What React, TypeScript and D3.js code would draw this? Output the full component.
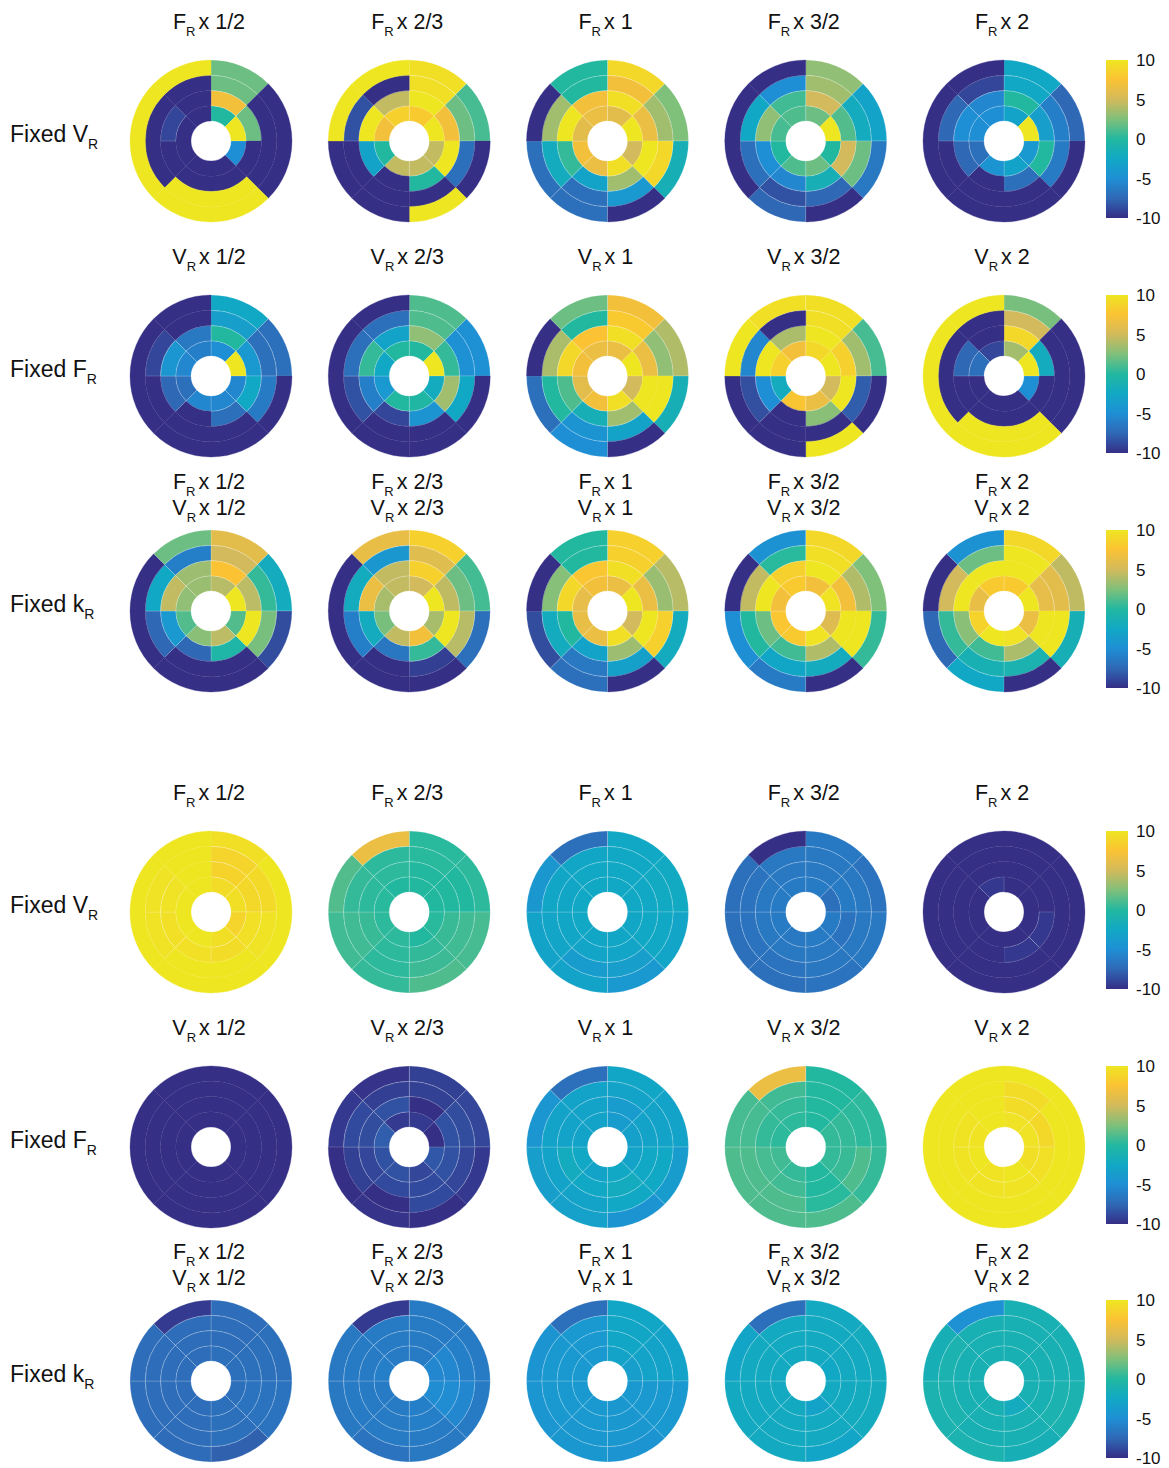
import React from 'react';
import * as d3 from 'd3';

// ---------- DATA (values in [-10, 10]; each plot: 4 rings (inner→outer) × 8 sectors clockwise from 12 o'clock)
const multipliers = ['1/2', '2/3', '1', '3/2', '2'];
const colorTicks = [10, 5, 0, -5, -10];
const colorDomain = [-10, -7.5, -5, -2.5, 0, 2.5, 5, 7.5, 10];
const colorRange = ['#352f86', '#2f68b5', '#1f8fd5', '#11a8c5', '#22b8a0', '#7fc07b', '#d3ba5c', '#fbc234', '#efe622'];

const topFixedVR = [
  [[0, 10, -5, -10, -10, -10, -10, -10], [7, 2, -10, -10, -10, -10, -9, -10], [2, -10, -10, 10, 10, -10, -10, -10], [2, -10, -10, 10, 10, 10, 10, 10]],
  [[8, 10, 4.5, 4.5, 4.5, 0, 7, 8.5], [10, 7, 10, 0, -10, -3, 10, 4.5], [9.5, 2, -7, -10, -10, -10, -8.5, -10], [9.5, 1, -10, 10, -10, -10, 10, 10]],
  [[6, 10, 5, 9.5, 6.5, 7, 6, 6.5], [9.5, 6.5, 10, 3.5, -3, 0.5, 10, 7], [7, 3.5, 9, -4, -7, -2, 3.5, 0], [9, 2.5, -1.5, -10, -7, -7, -10, 0]],
  [[2, 10, 0, 2, 1.2, 0, 1, 1.2], [5, 1.3, 5, -1.5, -5.5, -5, 3, 0.8], [3.5, -2, 2, -7.5, -8.5, -7, -2.5, -5], [3, -3, -6.5, -10, -7.5, -10, -10, -10]],
  [[-3, 10, -4, -3, -4.5, -7, -5, -5], [0, -3.5, 0, -7, -10, -7.5, -5, -5.5], [-2.5, -6, -6.3, -10, -10, -10, -7.5, -9], [-2.5, -7.5, -10, -10, -10, -10, -10, -10]],
];

const topFixedFR = [
  [[-5, 10, -5.5, -5.5, -5.5, -7, -5.5, -6], [0, -4, -2.5, -7, -10, -7.5, -4.3, -6.5], [-3.5, -7, -6.3, -10, -10, -10, -9, -10], [-2.5, -7, -10, -10, -10, -10, -10, -10]],
  [[0, 10, -2, -0.3, 0, -4, -2.5, 0], [3, 0.5, 3.5, -4.5, -9, -6, 0.5, -3], [1.2, -4.8, -2.5, -10, -10, -8.5, -7, -7], [1.2, -4.8, -10, -10, -10, -10, -10, -10]],
  [[6.5, 10, 5, 9.5, 7, 6, 7, 6.5], [9.5, 6.5, 10, 3.5, -1.5, 1.2, 9, 7.5], [8, 3, 10, -3, -4.5, 0, 3.8, 0], [7, 4, -1.5, -10, -5, -7, -10, 2]],
  [[9, 10, 5, 6.5, 7.7, -2, 8.5, 7], [10, 8.5, 10, 2.8, -10, -5, 10, 3.8], [9.5, 3.5, -8, -10, -10, -8.6, -5.5, -10], [9.5, 1, -10, 10, -10, -10, 10, 9.5]],
  [[3.6, 10, -5, -10, -10, -10, -7, -9], [9, -2, -10, -10, -10, -10, -7.5, -10], [5, -10, -10, 10, 10, -10, -10, -10], [2.3, -10, -10, 10, 10, 10, 10, 10]],
];

const topFixedKR = [
  [[4.2, 10, 1.3, 4.3, 2.8, 1.3, 3, 3.3], [7.5, 4.3, 10, -0.5, -7.5, -4, 4.5, 3.4], [5, 0.5, 2.3, -10, -10, -7.5, -2.5, -6], [6, -2, -8.7, -10, -10, -10, -10, 2]],
  [[5, 10, 3.7, 7, 4.5, 2.3, 3.7, 4.5], [8.5, 4.4, 10, 0.5, -6.6, -2, 6.5, 4.5], [5.8, 2, 4.2, -9.3, -10, -6, -2, -4.2], [8.5, 0.9, -7, -10, -10, -10, -10, 6.3]],
  [[6.5, 10, 5, 9.5, 6.5, 6.3, 6.2, 7], [9.5, 6.5, 10, 3.4, -3, 0, 9, 7.8], [8.5, 3.3, 8.5, -3.3, -6.5, -2, 2.7, 0], [8.5, 4.2, -2, -10, -7, -8.7, -10, 0]],
  [[7, 9.8, 5.7, 9.8, 8, 7.8, 7, 8], [10, 7, 10, 4, 0.8, 2, 10, 8.5], [9.5, 4, 10, -2, -2.7, 0, 4.5, 0.2], [9, 2.5, 0.5, -10, -6.3, -5, -10, -4.7]],
  [[8, 10, 6.5, 9.7, 10, 8.7, 6.3, 8], [10, 6.2, 10, 3.8, 0.8, 2.8, 10, 10], [10, 6, 10, -1, -1.3, 0.5, 5, 2], [9, 4.4, -1.5, -10, -2.5, -7.5, -10, -4.7]],
];

const bottomFixedVR = [
  [[9.3, 9.5, 8.8, 9.5, 10, 10, 10, 10], [8.7, 9, 9.6, 9.3, 9.6, 9.6, 9.7, 10], [8.8, 9.2, 9.7, 10, 10, 9.7, 9.7, 10], [9.5, 10, 10, 10, 10, 10, 10, 10]],
  [[0, 0, 0.2, 0, 0.3, 0.3, 0.2, 0], [0, 0, 0.6, 0.4, 0.3, 0.6, 0.3, 0.3], [0.2, 0, 0.8, 0.7, 0.3, 0.8, 0.5, 0.3], [0.2, 0.3, 1, 1.2, 0.5, 0.8, 1.3, 6.5]],
  [[-2.5, -2.5, -2.7, -2.7, -2.7, -2.5, -2.5, -2.5], [-2.5, -2.5, -2.5, -2.8, -2.8, -2.7, -2.7, -2.5], [-2.5, -2.3, -2.5, -3.5, -3.8, -2.8, -2.7, -2.7], [-2.5, -2.3, -2.8, -4, -3, -3, -4.2, -7]],
  [[-6.3, -7, -6.3, -6.3, -6.5, -6.3, -6.3, -6.3], [-6.5, -6.3, -6.8, -6.5, -6.5, -6.5, -6.5, -6.5], [-6.5, -6.5, -6.5, -6.6, -6.8, -6.8, -6.8, -6.5], [-6.4, -6.8, -6.5, -6.8, -7, -7, -7, -10]],
  [[-10, -10, -10, -10, -10, -10, -10, -9.6], [-10, -10, -9.6, -9.6, -10, -10, -10, -10], [-10, -10, -10, -10, -10, -10, -10, -10], [-10, -10, -10, -10, -10, -10, -10, -10]],
];

const bottomFixedFR = [
  [[-10, -10, -10, -10, -10, -10, -10, -10], [-10, -10, -10, -10, -10, -10, -10, -10], [-10, -10, -10, -10, -10, -10, -10, -10], [-10, -10, -10, -10, -10, -10, -10, -10]],
  [[-9.5, -10, -8.2, -9, -8.5, -8.5, -8, -9.5], [-10, -8.5, -8.5, -8.8, -8.8, -9, -8.7, -8.5], [-9.2, -8.7, -9, -8.8, -10, -9.2, -8.8, -9.3], [-9.2, -9, -9.6, -10, -9.8, -10, -9.6, -9.8]],
  [[-3.8, -3.3, -3, -2.5, -3, -2.5, -3, -3], [-3.8, -3, -2.5, -2, -2.5, -2, -3, -3], [-3, -3, -2.5, -2.5, -3, -3, -3, -3], [-2.7, -3, -3.8, -4.5, -3.2, -3.5, -4.3, -7]],
  [[0, 0.5, 0.5, 0, 0.5, 0.8, 0.3, 0.3], [0, 0.5, 0.6, 0, 0.8, 1, 0.5, 0.5], [0, 0.3, 1.2, 0.2, 1.2, 1.2, 1, 0.8], [0, 0.3, 0.5, 1.2, 1.2, 1.2, 1, 6.5]],
  [[9.7, 9.7, 9.5, 10, 9.8, 10, 9.8, 10], [9.3, 9, 9.6, 9.8, 9.8, 9.8, 9.8, 10], [9.3, 10, 10, 10, 10, 10, 10, 10], [10, 10, 10, 10, 10, 10, 10, 10]],
];

const bottomFixedKR = [
  [[-7, -7, -7, -7, -7.2, -7.2, -7.2, -7.2], [-7.2, -7, -6.8, -7, -7.2, -7.2, -7.2, -7.2], [-7.2, -7, -6.8, -7, -7.2, -7.2, -7.2, -7.2], [-7.2, -7, -6.8, -7.8, -7.3, -7.2, -7.2, -9.5]],
  [[-6.3, -5.5, -5.2, -6, -6.3, -6.3, -6, -6.3], [-6.3, -5.5, -5.2, -6, -6.3, -6.3, -6.3, -6.3], [-6.3, -6, -5.5, -6.3, -6.3, -6.3, -6.3, -6.3], [-6.3, -6.3, -6.3, -6.5, -6.8, -6.5, -6.5, -9.5]],
  [[-3, -3.5, -4, -4.2, -4, -4, -4, -4], [-2.7, -3, -4, -4.2, -4, -4, -4, -4], [-2.7, -3, -4, -4.2, -4.2, -4, -4, -4], [-2.7, -3, -4, -4.5, -4.2, -4.3, -4.5, -7]],
  [[-2.2, -2.5, -2.2, -3, -2.2, -2.2, -2.2, -2.2], [-2.2, -2.2, -2.2, -2.2, -2.2, -2.2, -2.2, -2.2], [-2.2, -2.2, -2, -2.2, -2.2, -2.2, -2.2, -2.2], [-2.2, -2, -2, -2.8, -2.2, -2.2, -2.8, -7]],
  [[-1.3, -1.3, -1.3, -2, -1.3, -1.3, -1.3, -1.3], [-1.3, -1.3, -1.3, -1.3, -1.3, -1.3, -1.3, -1.3], [-1.3, -1.3, -1, -1.3, -1.3, -1, -1, -1.3], [-1.3, -1.3, -1, -1.5, -1, -1, -1.5, -4.8]],
];

const panels = [
  { fixed: 'V', vary: ['F'], data: topFixedVR },
  { fixed: 'F', vary: ['V'], data: topFixedFR },
  { fixed: 'k', vary: ['F', 'V'], data: topFixedKR },
  { fixed: 'V', vary: ['F'], data: bottomFixedVR },
  { fixed: 'F', vary: ['V'], data: bottomFixedFR },
  { fixed: 'k', vary: ['F', 'V'], data: bottomFixedKR },
];

// ---------- LAYOUT
const W = 1169;
const H = 1468;
const rowCenters = [141, 376, 611, 912, 1147, 1381];
const FONT = '"Liberation Sans", Arial, Helvetica, sans-serif';

const xScale = d3.scalePoint<string>().domain(multipliers).range([211, 1004]);
const radius = d3.scaleLinear().domain([0, 4]).range([20, 81]);
const color = d3.scaleLinear<string>().domain(colorDomain).range(colorRange).interpolate(d3.interpolateRgb).clamp(true);
const arc = d3.arc();

function Bullseye({ cx, cy, rings }: { cx: number; cy: number; rings: number[][] }) {
  const cells: any[] = [];
  rings.forEach((ring, ri) => {
    ring.forEach((v, si) => {
      const d = arc({
        innerRadius: radius(ri),
        outerRadius: radius(ri + 1),
        startAngle: (si * Math.PI) / 4,
        endAngle: ((si + 1) * Math.PI) / 4,
      } as any) as string;
      const sat = Math.abs(v) >= 10;
      cells.push(
        <path key={`${ri}-${si}`} d={d} fill={color(v)} stroke={sat ? color(v) : 'rgba(255,255,255,0.3)'} strokeWidth={sat ? 0.3 : 0.6} />
      );
    });
  });
  return <g transform={`translate(${cx},${cy})`}>{cells}</g>;
}

function Title({ x, y, v, m }: { x: number; y: number; v: string; m: string }) {
  return (
    <text x={x} y={y} textAnchor="middle" fontFamily={FONT} fontSize={21.5} fill="#111">
      <tspan>{v}</tspan>
      <tspan fontSize={13} dy={7}>R</tspan>
      <tspan dy={-7} dx={3}>{'x ' + m}</tspan>
    </text>
  );
}

function Colorbar({ cy, id }: { cy: number; id: string }) {
  const top = cy - 81;
  const bot = cy + 77;
  const y = d3.scaleLinear().domain([-10, 10]).range([bot, top]);
  const stops = d3.range(0, 1.0001, 0.02);
  return (
    <g>
      <defs>
        <linearGradient id={id} x1="0" y1="1" x2="0" y2="0">
          {stops.map((t) => (
            <stop key={t} offset={t} stopColor={color(-10 + 20 * t)} />
          ))}
        </linearGradient>
      </defs>
      <rect x={1106} y={top} width={22} height={bot - top} fill={`url(#${id})`} />
      {colorTicks.map((t) => (
        <text key={t} x={1136} y={y(t) + 6} fontFamily={FONT} fontSize={17} fill="#111">
          {t}
        </text>
      ))}
    </g>
  );
}

export default function App() {
  return (
    <svg width={W} height={H} style={{ position: 'absolute', left: 0, top: 0, background: '#fff' }}>
      <rect x={0} y={0} width={W} height={H} fill="#fff" />
      {panels.map((p, pi) => {
        const cy = rowCenters[pi];
        return (
          <g key={pi}>
            <text x={10} y={cy + 1} fontFamily={FONT} fontSize={23} fill="#111">
              <tspan>{'Fixed ' + p.fixed}</tspan>
              <tspan fontSize={14} dy={7}>R</tspan>
            </text>
            {p.data.map((rings, ci) => {
              const cx = xScale(multipliers[ci]) as number;
              const m = multipliers[ci];
              return (
                <g key={ci}>
                  {p.vary.length === 1 ? (
                    <Title x={cx - 2} y={cy - 112} v={p.vary[0]} m={m} />
                  ) : (
                    <>
                      <Title x={cx - 2} y={cy - 122} v={p.vary[0]} m={m} />
                      <Title x={cx - 2} y={cy - 96} v={p.vary[1]} m={m} />
                    </>
                  )}
                  <Bullseye cx={cx} cy={cy} rings={rings} />
                </g>
              );
            })}
            <Colorbar cy={cy} id={`cb${pi}`} />
          </g>
        );
      })}
    </svg>
  );
}
